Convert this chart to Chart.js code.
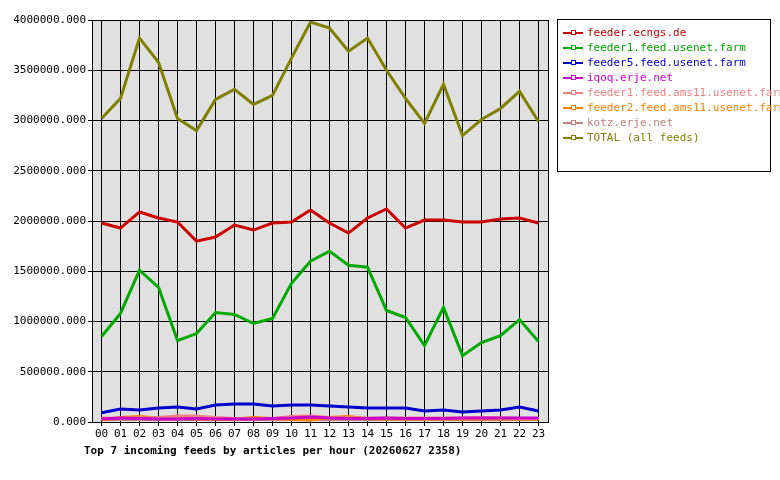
<!DOCTYPE html>
<html>
<head>
<meta charset="utf-8">
<script src="https://cdn.jsdelivr.net/npm/chart.js@4"></script>
<style>
  body { margin: 0; background: #fff; font-family: "DejaVu Sans Mono", monospace; }
  #wrap { position: relative; width: 780px; height: 480px; }
  #legend { position: absolute; left: 557px; top: 19px; width: 214px; height: 153px; border: 1px solid #000; box-sizing: border-box; padding: 5px 0 0 5px; font-size: 11px; }
  #legend div { height: 15px; line-height: 15px; white-space: nowrap; }
  #legend span.sw { display: inline-block; width: 20px; height: 2px; vertical-align: middle; margin-right: 4px; position: relative; }
  #legend span.sw i { position: absolute; left: 8px; top: -2px; width: 3px; height: 3px; border: 1px solid; background: #fff; }
  #title { position: absolute; left: 84px; top: 444px; font-size: 11px; font-weight: bold; }
</style>
</head>
<body>
<div id="wrap">
  <canvas id="feedChart" width="780" height="480"></canvas>
  <div id="legend"></div>
  <div id="title">Top 7 incoming feeds by articles per hour (20260627 2358)</div>
</div>
<script>
// hours
const hours = ['00','01','02','03','04','05','06','07','08','09','10','11','12','13','14','15','16','17','18','19','20','21','22','23'];

const ecngs = [1980000,1930000,2090000,2030000,1990000,1800000,1840000,1960000,1910000,1980000,1990000,2110000,1980000,1880000,2030000,2120000,1930000,2010000,2010000,1990000,1990000,2020000,2030000,1980000];
const feeder1 = [850000,1080000,1510000,1340000,810000,880000,1090000,1070000,980000,1030000,1380000,1600000,1700000,1560000,1540000,1110000,1040000,760000,1140000,660000,790000,860000,1020000,800000];
const feeder5 = [93000,130000,120000,140000,150000,130000,170000,180000,180000,160000,170000,170000,160000,150000,140000,140000,140000,110000,120000,100000,110000,120000,150000,110000];
const iqoq = [30000,40000,35000,30000,30000,35000,30000,30000,30000,35000,40000,50000,40000,35000,35000,40000,35000,35000,35000,40000,40000,40000,40000,40000];
const ams11a = [40000,35000,40000,45000,60000,60000,45000,35000,30000,35000,55000,60000,45000,40000,40000,40000,40000,40000,40000,40000,45000,40000,35000,35000];
const ams11b = [20000,45000,55000,40000,40000,30000,25000,30000,45000,35000,25000,20000,45000,55000,35000,30000,30000,30000,30000,30000,30000,30000,30000,30000];
const kotz = [25000,25000,25000,25000,25000,25000,25000,25000,25000,25000,25000,25000,25000,25000,25000,25000,25000,25000,25000,25000,25000,25000,25000,25000];
const total = [3020000,3220000,3820000,3580000,3020000,2900000,3210000,3310000,3160000,3250000,3620000,3980000,3920000,3690000,3820000,3500000,3220000,2970000,3360000,2850000,3010000,3120000,3290000,2990000];

const yTicks = [0,500000,1000000,1500000,2000000,2500000,3000000,3500000,4000000];

const series = [
    { label: 'feeder.ecngs.de', data: ecngs, color: '#cc0000' },
    { label: 'feeder1.feed.usenet.farm', data: feeder1, color: '#00aa00' },
    { label: 'feeder5.feed.usenet.farm', data: feeder5, color: '#0000cc' },
    { label: 'iqoq.erje.net', data: iqoq, color: '#cc00cc' },
    { label: 'feeder1.feed.ams11.usenet.farm', data: ams11a, color: '#f08080' },
    { label: 'feeder2.feed.ams11.usenet.farm', data: ams11b, color: '#ff8000' },
    { label: 'kotz.erje.net', data: kotz, color: '#c08080' },
    { label: 'TOTAL (all feeds)', data: total, color: '#808000' }
];

const legendEl = document.getElementById('legend');
series.forEach(s => {
    const row = document.createElement('div');
    row.style.color = s.color;
    row.innerHTML = '<span class="sw" style="background:' + s.color + '"><i style="border-color:' + s.color + '"></i></span>' + s.label;
    legendEl.appendChild(row);
});

const plotBg = {
    id: 'plotBg',
    beforeDraw(chart) {
        const { ctx, chartArea: a } = chart;
        ctx.save();
        ctx.fillStyle = '#e0e0e0';
        ctx.fillRect(a.left, a.top, a.right - a.left, a.bottom - a.top);
        ctx.restore();
    },
    afterDraw(chart) {
        const { ctx, chartArea: a } = chart;
        ctx.save();
        ctx.strokeStyle = '#000';
        ctx.lineWidth = 1;
        ctx.strokeRect(a.left + 0.5, a.top + 0.5, a.right - a.left, a.bottom - a.top);
        ctx.restore();
    }
};

// draw in reverse so TOTAL/ecngs sit behind small feeds like the original
const datasets = series.map(s => ({
    label: s.label,
    data: s.data,
    borderColor: s.color,
    backgroundColor: s.color,
    borderWidth: 3,
    pointRadius: 0,
    tension: 0,
    fill: false
}));

new Chart(document.getElementById('feedChart'), {
    type: 'line',
    data: { labels: hours, datasets },
    options: {
        responsive: false,
        animation: false,
        layout: { padding: { top: 20, right: 232, left: 0, bottom: 0 } },
        plugins: { legend: { display: false }, tooltip: { enabled: false } },
        scales: {
            x: {
                offset: true,
                afterFit(axis) { axis.height = 58; },
                grid: { color: '#000', drawTicks: true, tickLength: 4 },
                border: { display: false },
                ticks: { color: '#000', maxRotation: 0, autoSkip: false, padding: 2, font: { family: 'DejaVu Sans Mono', size: 11 } }
            },
            y: {
                min: 0,
                max: 4000000,
                afterFit(axis) { axis.width = 92; },
                afterBuildTicks(axis) { axis.ticks = yTicks.map(v => ({ value: v })); },
                grid: { color: '#000', tickLength: 4 },
                border: { display: false },
                ticks: {
                    color: '#000',
                    padding: 2,
                    font: { family: 'DejaVu Sans Mono', size: 11 },
                    callback: v => v.toFixed(3)
                }
            }
        }
    },
    plugins: [plotBg]
});
</script>
</body>
</html>
